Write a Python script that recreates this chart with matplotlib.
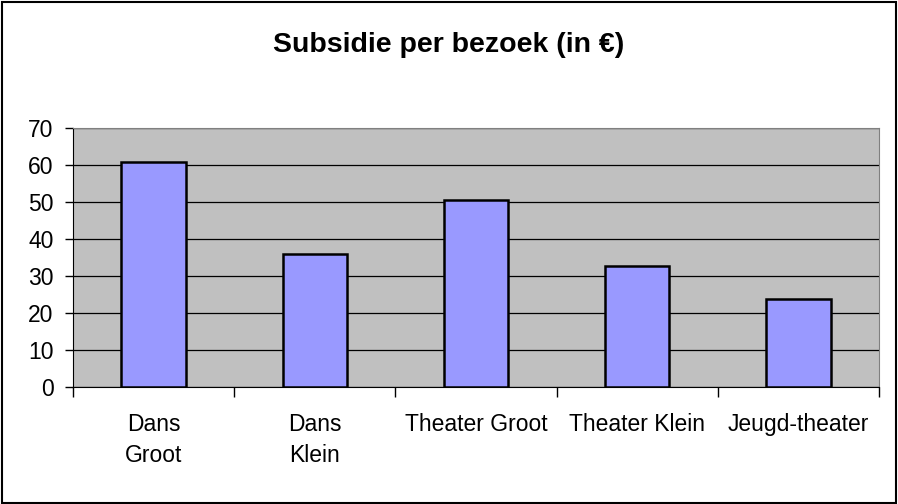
import matplotlib.pyplot as plt
from matplotlib.patches import Rectangle
import numpy as np

plt.rcParams['font.family'] = ['Liberation Sans', 'DejaVu Sans']

# data
categories = ['Dans\nGroot', 'Dans\nKlein', 'Theater Groot', 'Theater Klein', 'Jeugd-theater']
values = [60.8, 35.9, 50.5, 32.7, 23.8]
title = 'Subsidie per bezoek (in €)'

W, H = 898, 504
fig = plt.figure(figsize=(W / 100, H / 100), dpi=100)
ax = fig.add_axes([73 / W, 1 - 387 / H, (879 - 73) / W, (387 - 128) / H])

x = np.arange(len(categories))
ax.set_facecolor('#C0C0C0')
ax.set_axisbelow(True)
ax.yaxis.grid(True, color='black', lw=0.9)
ax.bar(x, values, width=0.4, color='#9999FF', edgecolor='black', lw=1.8, zorder=3)

ax.set_xlim(-0.5, len(categories) - 0.5)
ax.set_ylim(0, 70)
ax.set_yticks(range(0, 71, 10))
ax.set_xticks(np.arange(len(categories) + 1) - 0.5)
ax.set_xticklabels([])
ax.set_xticks(x, minor=True)
ax.set_xticklabels(categories, minor=True, fontsize=16.5, linespacing=1.45)
ax.tick_params(axis='x', which='minor', length=0, pad=18.5)
ax.tick_params(axis='x', which='major', length=7, width=1, direction='out')
ax.tick_params(axis='y', length=6, width=1, labelsize=16.5, pad=8)
for lab in ax.get_xticklabels(minor=True):
    lab.set_verticalalignment('top')

ax.spines['left'].set_color('black')
ax.spines['bottom'].set_color('black')
ax.spines['top'].set_color('#808080')
ax.spines['right'].set_color('#808080')

fig.text(0.5, 1 - 52 / H, title, ha='center', va='baseline', fontsize=20.5, fontweight='bold')

# outer border
fig.patches.append(Rectangle((2 / W, 1 / H), (W - 4) / W, (H - 3) / H,
                             transform=fig.transFigure, fill=False,
                             edgecolor='black', lw=1.5))

fig.savefig('out.png', dpi=100)
